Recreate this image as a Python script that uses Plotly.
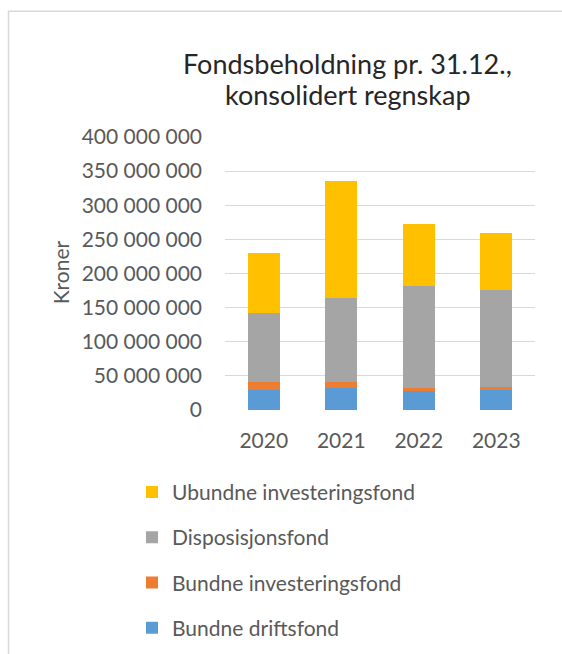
import plotly.graph_objects as go

years = ["2020", "2021", "2022", "2023"]
series_names = ["Bundne driftsfond", "Bundne investeringsfond", "Disposisjonsfond", "Ubundne investeringsfond"]
bundne_driftsfond = [28.7e6, 31.6e6, 27.3e6, 28.7e6]
bundne_investeringsfond = [12.2e6, 9.3e6, 4.3e6, 4.4e6]
disposisjonsfond = [101.7e6, 122.7e6, 149.5e6, 143.1e6]
ubundne_investeringsfond = [87.7e6, 171.8e6, 91.5e6, 83.3e6]
colors = ["#5B9BD5", "#ED7D31", "#A5A5A5", "#FFC000"]
y_tickvals = [0, 50e6, 100e6, 150e6, 200e6, 250e6, 300e6, 350e6, 400e6]
y_ticktext = ["0", "50 000 000", "100 000 000", "150 000 000", "200 000 000",
              "250 000 000", "300 000 000", "350 000 000", "400 000 000"]
title_lines = ["Fondsbeholdning pr. 31.12.,", "konsolidert regnskap"]

W, H = 562, 654
L, R, T, B = 225, 535, 136.7, 409.7
FONT = "Lato"

def px(X):
    return (X - L) / (R - L)

def py(Y):
    return (B - Y) / (B - T)

fig = go.Figure()
series_vals = [bundne_driftsfond, bundne_investeringsfond, disposisjonsfond, ubundne_investeringsfond]
for i, (name, vals, col) in enumerate(zip(series_names, series_vals, colors)):
    fig.add_trace(go.Bar(x=years, y=vals, name=name, marker=dict(color=col, line=dict(width=0)),
                         legendgroup=name, legendrank=1000 - i))

annotations = []
for line, yc in zip(title_lines, [63.5, 94.5]):
    annotations.append(dict(text=line, x=px(347.5), y=py(yc), xref="paper", yref="paper",
                            xanchor="center", yanchor="middle", showarrow=False,
                            font=dict(family=FONT, size=27, color="#262626")))
annotations.append(dict(text="Kroner", x=px(60), y=py(272), xref="paper", yref="paper",
                        xanchor="center", yanchor="middle", showarrow=False, textangle=-90,
                        font=dict(family=FONT, size=21, color="#595959")))

fig.update_layout(
    width=W, height=H,
    margin=dict(l=L, r=W - R, t=T, b=H - B, pad=0, autoexpand=False),
    barmode="stack", bargap=0.59,
    plot_bgcolor="white", paper_bgcolor="white",
    font=dict(family=FONT, color="#595959", size=21),
    showlegend=True,
    legend=dict(traceorder="grouped", x=px(132), xanchor="left", y=py(471.5), yanchor="top",
                font=dict(family=FONT, size=21, color="#595959"),
                tracegroupgap=15, bgcolor="rgba(0,0,0,0)", itemclick=False),
    xaxis=dict(showgrid=False, showline=False, zeroline=False, ticks="",
               ticklabelstandoff=16, tickfont=dict(size=21, color="#595959")),
    yaxis=dict(range=[0, 400e6], tickvals=y_tickvals, ticktext=y_ticktext,
               showgrid=True, gridcolor="#D9D9D9", gridwidth=1, zeroline=False,
               showline=False, ticks="", ticklabelstandoff=22,
               tickfont=dict(size=21, color="#595959")),
    annotations=annotations,
    shapes=[
        dict(type="rect", xref="paper", yref="paper", x0=px(8.5), x1=px(700), y0=py(800), y1=py(11),
             line=dict(color="#D9D9D9", width=1.5), fillcolor="rgba(0,0,0,0)", layer="below"),
    ],
)

fig.write_html("out.html", post_script="document.body.style.margin='0';",
               config={"displayModeBar": False})
